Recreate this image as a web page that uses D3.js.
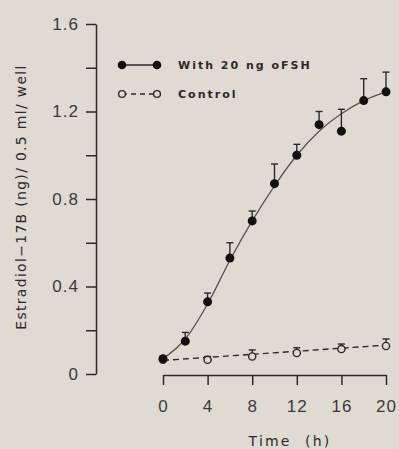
<!DOCTYPE html>
<html lang="en">
<head>
    <meta charset="UTF-8">
    <title>Estradiol-17B production</title>
    <script src="https://d3js.org/d3.v7.min.js"></script>
    <style>
        body { margin: 0; background: #dfdad2; }
        svg { display: block; }
    </style>
</head>
<body>
    <svg id="chart" width="399" height="449"></svg>

    <script>
        // Data
        const fshTimes = [0, 2, 4, 6, 8, 10, 12, 14, 16, 18, 20];
        const fshMeans = [0.07, 0.15, 0.33, 0.53, 0.70, 0.87, 1.00, 1.14, 1.11, 1.25, 1.29];
        const fshErrTop = [0.08, 0.19, 0.37, 0.60, 0.745, 0.96, 1.05, 1.20, 1.21, 1.35, 1.38];

        // fitted curve drawn through the FSH points
        const fitTimes = [0, 2, 4, 6, 8, 10, 12, 14, 16, 18, 20];
        const fitValues = [0.07, 0.16, 0.32, 0.52, 0.70, 0.86, 1.00, 1.11, 1.19, 1.25, 1.29];

        const ctrlTimes = [0, 4, 8, 12, 16, 20];
        const ctrlMeans = [0.065, 0.065, 0.08, 0.096, 0.114, 0.128];
        const ctrlErrTop = [0.075, 0.08, 0.11, 0.12, 0.137, 0.16];

        // linear fit for control
        const ctrlFitTimes = [0, 20];
        const ctrlFitValues = [0.062, 0.132];

        const xTicks = [0, 4, 8, 12, 16, 20];
        const yTicks = [0, 0.2, 0.4, 0.6, 0.8, 1.0, 1.2, 1.4, 1.6];
        const yLabels = ["0", "", "0.4", "", "0.8", "", "1.2", "", "1.6"];

        const legendNames = ["With 20 ng oFSH", "Control"];

        const svg = d3.select('#chart');
        const ink = '#2a2a2a';
        const bg = '#dfdad2';

        const x = d3.scaleLinear().domain([0, 20]).range([163, 386]);
        const y = d3.scaleLinear().domain([0, 1.6]).range([374, 24]);

        // Y axis
        const yAxis = svg.append('g')
            .attr('transform', 'translate(96,0)')
            .call(d3.axisLeft(y)
                .tickValues(yTicks)
                .tickSize(10)
                .tickSizeOuter(0)
                .tickPadding(7)
                .tickFormat((d, i) => yLabels[i]));

        // X axis
        const xAxis = svg.append('g')
            .attr('transform', 'translate(0,375)')
            .call(d3.axisBottom(x)
                .tickValues(xTicks)
                .tickSize(10)
                .tickSizeOuter(0)
                .tickPadding(12)
                .tickFormat(d3.format('d')));

        [yAxis, xAxis].forEach(g => {
            g.select('.domain').attr('stroke', ink).attr('stroke-width', 1.5);
            g.selectAll('.tick line').attr('stroke', ink).attr('stroke-width', 1.5);
            g.selectAll('.tick text')
                .attr('fill', '#3a3a3a')
                .style('font-family', '"Liberation Sans", Arial, sans-serif')
                .style('font-size', '17px')
                .style('letter-spacing', '1px');
        });
        xAxis.selectAll('.tick text').attr('dy', '0.9em');

        // Axis titles
        svg.append('text')
            .attr('x', 290)
            .attr('y', 446)
            .attr('text-anchor', 'middle')
            .attr('fill', ink)
            .style('font-family', '"DejaVu Sans", sans-serif')
            .style('font-size', '14px')
            .style('letter-spacing', '2.2px')
            .style('white-space', 'pre')
            .text('Time  (h)');

        svg.append('text')
            .attr('transform', 'translate(26,197) rotate(-90)')
            .attr('text-anchor', 'middle')
            .attr('fill', ink)
            .style('font-family', '"DejaVu Sans", sans-serif')
            .style('font-size', '14px')
            .style('letter-spacing', '1.3px')
            .text('Estradiol\u221217B (ng)/ 0.5 ml/ well');

        // Fitted lines
        const line = d3.line()
            .x(d => x(d[0]))
            .y(d => y(d[1]))
            .curve(d3.curveMonotoneX);

        svg.append('path')
            .datum(fitTimes.map((t, i) => [t, fitValues[i]]))
            .attr('d', line)
            .attr('fill', 'none')
            .attr('stroke', '#555')
            .attr('stroke-width', 1.3);

        svg.append('path')
            .datum(ctrlFitTimes.map((t, i) => [t, ctrlFitValues[i]]))
            .attr('d', d3.line().x(d => x(d[0])).y(d => y(d[1])))
            .attr('fill', 'none')
            .attr('stroke', ink)
            .attr('stroke-width', 1.4)
            .attr('stroke-dasharray', '6,4');

        // Error bars
        function errorBars(times, means, tops) {
            const g = svg.append('g').attr('stroke', ink).attr('stroke-width', 1.4);
            times.forEach((t, i) => {
                g.append('line')
                    .attr('x1', x(t)).attr('x2', x(t))
                    .attr('y1', y(means[i])).attr('y2', y(tops[i]));
                g.append('line')
                    .attr('x1', x(t) - 3.5).attr('x2', x(t) + 3.5)
                    .attr('y1', y(tops[i])).attr('y2', y(tops[i]));
            });
        }
        errorBars(ctrlTimes, ctrlMeans, ctrlErrTop);
        errorBars(fshTimes, fshMeans, fshErrTop);

        // Control markers (open)
        svg.selectAll('circle.ctrl')
            .data(ctrlTimes)
            .enter().append('circle')
            .attr('class', 'ctrl')
            .attr('cx', d => x(d))
            .attr('cy', (d, i) => y(ctrlMeans[i]))
            .attr('r', 3.6)
            .attr('fill', bg)
            .attr('stroke', ink)
            .attr('stroke-width', 1.4);

        // FSH markers (filled)
        svg.selectAll('circle.fsh')
            .data(fshTimes)
            .enter().append('circle')
            .attr('class', 'fsh')
            .attr('cx', d => x(d))
            .attr('cy', (d, i) => y(fshMeans[i]))
            .attr('r', 4.5)
            .attr('fill', '#111');

        // Legend
        const legend = svg.append('g');
        legendNames.forEach((name, i) => {
            const ly = 65 + i * 29;
            legend.append('line')
                .attr('x1', 122).attr('x2', 157)
                .attr('y1', ly).attr('y2', ly)
                .attr('stroke', ink)
                .attr('stroke-width', 1.4)
                .attr('stroke-dasharray', i === 0 ? null : '5,4');
            [122, 157].forEach(cx => {
                legend.append('circle')
                    .attr('cx', cx).attr('cy', ly)
                    .attr('r', i === 0 ? 4.3 : 3.4)
                    .attr('fill', i === 0 ? '#111' : bg)
                    .attr('stroke', ink)
                    .attr('stroke-width', i === 0 ? 0 : 1.4);
            });
            legend.append('text')
                .attr('x', 178)
                .attr('y', ly)
                .attr('dy', '0.35em')
                .attr('fill', ink)
                .style('font-family', '"DejaVu Sans", sans-serif')
                .style('font-size', '11px')
                .style('font-weight', 'bold')
                .style('letter-spacing', '2px')
                .text(name);
        });
    </script>
</body>
</html>
